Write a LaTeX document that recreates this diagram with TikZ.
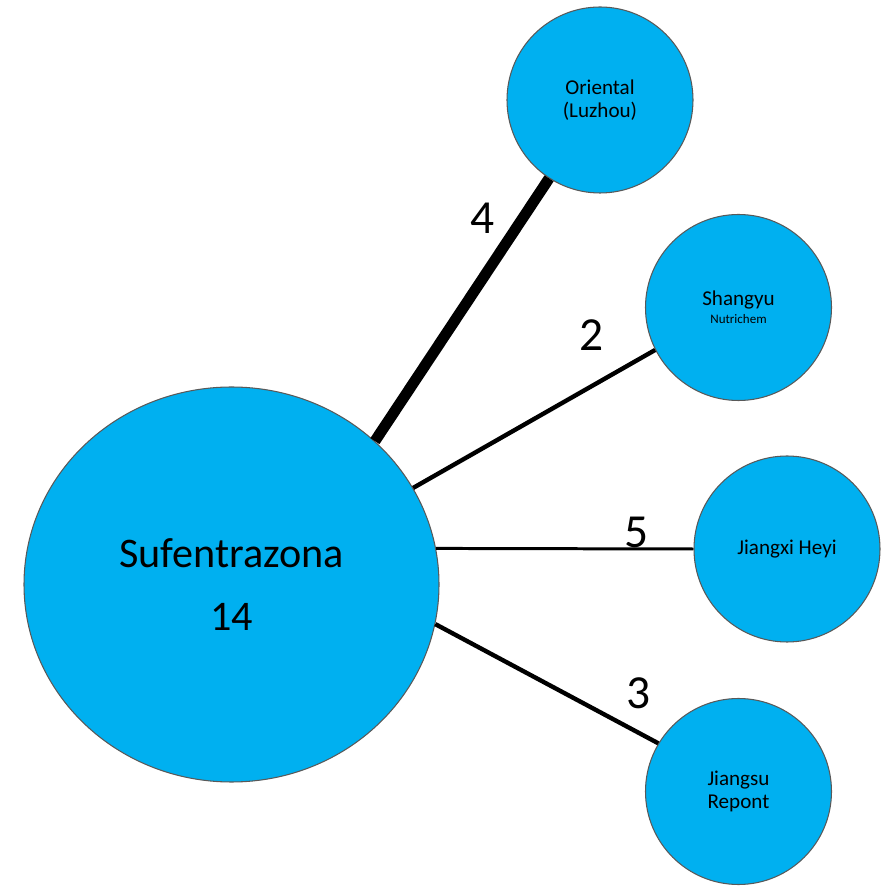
\documentclass[tikz,border=0pt]{standalone}
\usepackage{fontspec}
\setmainfont{Carlito}
\usetikzlibrary{shapes.geometric,positioning}
\definecolor{bubbleblue}{HTML}{00B0F0}

\begin{document}
\begin{tikzpicture}[
		bubble/.style={circle, fill=bubbleblue, draw=black!65, line width=0.3pt, minimum size=1.86cm, inner sep=0pt, align=center, font=\fontsize{6}{6.6}\selectfont},
		hub/.style={ellipse, fill=bubbleblue, draw=black!65, line width=0.3pt, minimum width=4.15cm, minimum height=3.95cm, inner sep=0pt, align=center, font=\fontsize{12}{18}\selectfont},
		count/.style={font=\fontsize{13.5}{16}\selectfont, inner sep=0pt}
	]
		  \useasboundingbox (0,0) rectangle (8.89,-8.87);
		  % hub and the four suppliers
		  \node[hub] (sufen) at (2.315,-5.845) {Sufentrazona\\14};
		  \node[bubble] (ori) at (6.00,-1.00) {Oriental\\(Luzhou)};
		  \node[bubble] (shang) at (7.385,-3.075) {Shangyu\\[-1.5pt]{\fontsize{3.7}{4.4}\selectfont Nutrichem}};
		  \node[bubble] (heyi) at (7.87,-5.49) {Jiangxi Heyi};
		  \node[bubble] (repont) at (7.385,-7.915) {Jiangsu\\Repont};
		  % links
		  \draw[line width=3.1pt] (sufen.45.4) -- (ori.237.3);
		  \draw[line width=1.25pt] (sufen.28.2) -- (shang.207.5);
		  \draw[line width=0.85pt] (sufen.10.3) -- (heyi.west);
		  \draw[line width=1.25pt] (sufen.-11.1) -- (repont.149.4);
		  % counts
		  \node[count] (n4) at (4.83,-2.18) {4};
		  \node[count] (n2) at (5.92,-3.35) {2};
		  \node[count] (n5) at (6.37,-5.32) {5};
		  \node[count] (n3) at (6.39,-6.93) {3};
		\end{tikzpicture}
\end{document}
